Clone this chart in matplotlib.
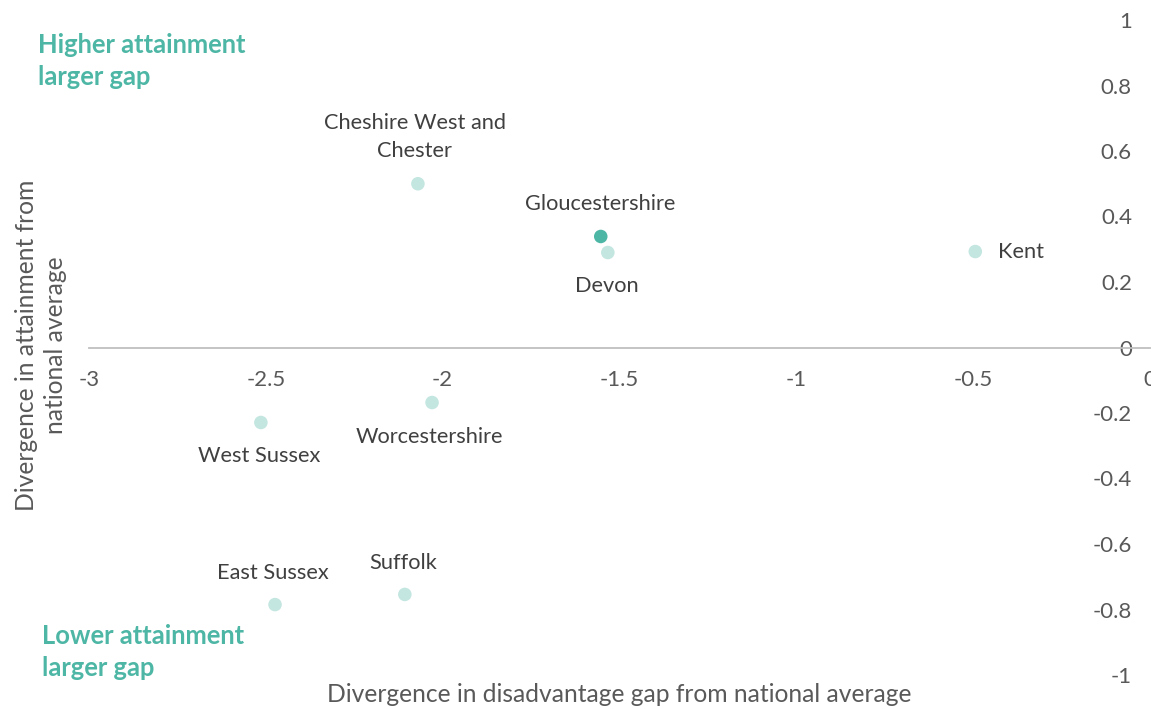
import matplotlib
matplotlib.use('Agg')
import matplotlib.pyplot as plt

# Divergence from national average, by local authority
areas = ['Cheshire West and\nChester', 'Gloucestershire', 'Devon', 'Kent',
         'West Sussex', 'Worcestershire', 'East Sussex', 'Suffolk']
gap_div = [-2.070, -1.553, -1.533, -0.494, -2.514, -2.030, -2.474, -2.107]
attain_div = [0.50, 0.339, 0.29, 0.293, -0.229, -0.168, -0.785, -0.754]
highlight = 'Gloucestershire'

# label offsets in pixels (dx, dy) and horizontal alignment
label_pos = {
    'Cheshire West and\nChester': (-3, 47, 'center'),
    'Gloucestershire': (-1, 32, 'center'),
    'Devon': (-1, -33, 'center'),
    'Kent': (23, 0, 'left'),
    'West Sussex': (-2, -34, 'center'),
    'Worcestershire': (-3, -34, 'center'),
    'East Sussex': (-2, 32, 'center'),
    'Suffolk': (-2, 31, 'center'),
}

xticks = [-3, -2.5, -2, -1.5, -1, -0.5, 0]
yticks = [-1, -0.8, -0.6, -0.4, -0.2, 0, 0.2, 0.4, 0.6, 0.8, 1]

teal = '#4DB6A5'
light = '#C3E6E0'
txt = '#404040'
tick_col = '#595959'

plt.rcParams['font.family'] = ['Lato', 'DejaVu Sans']

fig = plt.figure(figsize=(11.51, 7.09), dpi=100)
ax = fig.add_axes([89 / 1151, 1 - 675 / 709, 1061 / 1151, 655 / 709])

cols = [teal if a == highlight else light for a in areas]
ax.scatter(gap_div, attain_div, s=95, c=cols, zorder=3, linewidths=0)

for name, x, y in zip(areas, gap_div, attain_div):
    dx, dy, ha = label_pos[name]
    ax.annotate(name, (x, y), xytext=(dx, dy), textcoords='offset pixels',
                ha=ha, va='center', fontsize=15.7, color=txt,
                multialignment='center', linespacing=1.5)

ax.set_xlim(-3, 0)
ax.set_ylim(-1, 1)
ax.set_xticks(xticks)
ax.set_xticklabels(['%g' % t for t in xticks])
ax.set_yticks(yticks)
ax.set_yticklabels(['%g' % t for t in yticks])

for s in ['top', 'right']:
    ax.spines[s].set_visible(False)
ax.spines['bottom'].set_position(('data', 0))
ax.spines['bottom'].set_color('#BFBFBF')
ax.spines['bottom'].set_linewidth(1.3)
ax.spines['left'].set_position(('data', 0))
ax.spines['left'].set_visible(False)
ax.tick_params(axis='x', length=0, pad=16, labelsize=16, labelcolor=tick_col)
ax.tick_params(axis='y', length=0, pad=13, labelsize=16, labelcolor=tick_col)
ax.patch.set_alpha(0)

fig.text(619 / 1151, 1 - 694 / 709, 'Divergence in disadvantage gap from national average',
         ha='center', va='center', fontsize=17.7, color=tick_col)
fig.text(41 / 1151, 1 - 345 / 709, 'Divergence in attainment from\nnational average',
         ha='center', va='center', rotation=90, fontsize=17.7, color=tick_col,
         linespacing=1.35, multialignment='center')

fig.text(38 / 1151, 1 - 61 / 709, 'Higher attainment\nlarger gap', ha='left', va='center',
         fontsize=18.4, fontweight='bold', color=teal, linespacing=1.42)
fig.text(42 / 1151, 1 - 652 / 709, 'Lower attainment\nlarger gap', ha='left', va='center',
         fontsize=18.4, fontweight='bold', color=teal, linespacing=1.42)

fig.savefig('out.png', dpi=100)
